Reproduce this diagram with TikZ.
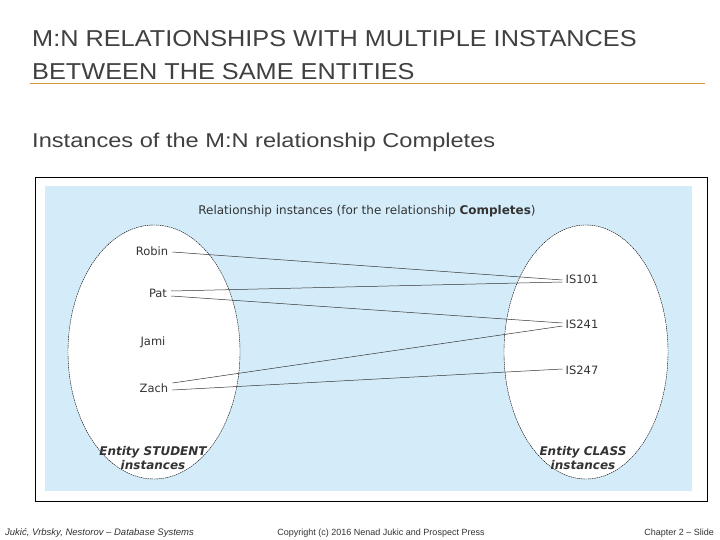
\documentclass[tikz,border=0pt]{standalone}
\usepackage{fontspec}
\setmainfont{Liberation Sans}
\newfontfamily\dv{DejaVu Sans}
\begin{document}
\begin{tikzpicture}[x=1pt,y=-1pt,
  lbl/.style={font=\dv\fontsize{11.5}{13}\selectfont,text=black!80,inner sep=1pt},
  ent/.style={font=\dv\bfseries\itshape\fontsize{12}{14}\selectfont,text=black!80,align=center},
  conn/.style={draw=black!80,line width=0.5pt}]
\useasboundingbox (0,0) rectangle (720,540);
\fill[white] (0,0) rectangle (720,540);
\node[anchor=base west,font=\fontsize{23}{26}\selectfont,text=black!75,xscale=1.1,inner sep=0pt] (t1) at (32,47) {M:N RELATIONSHIPS WITH MULTIPLE INSTANCES};
\node[anchor=base west,font=\fontsize{23}{26}\selectfont,text=black!75,xscale=1.1,inner sep=0pt] (t2) at (32,80) {BETWEEN THE SAME ENTITIES};
\draw[draw={rgb,255:red,215;green,150;blue,60},line width=1pt] (30,84) -- (705,84);
\node[anchor=base west,font=\fontsize{20}{24}\selectfont,text=black!75,xscale=1.18,inner sep=0pt] (sub) at (32,148) {Instances of the M:N relationship Completes};
\draw[line width=0.8pt] (35,177) rectangle (707,501);
\fill[fill={rgb,255:red,212;green,236;blue,250}] (45,186) rectangle (692,491);
\node[font=\dv\fontsize{12}{14}\selectfont,text=black!80] (hd) at (367,211) {Relationship instances (for the relationship \textbf{Completes})};
\draw[dashed,dash pattern=on 1.5pt off 0.7pt,fill=white] (154,352) ellipse [x radius=86,y radius=127];
\draw[dashed,dash pattern=on 1.5pt off 0.7pt,fill=white] (586,352) ellipse [x radius=82,y radius=127];
\node[lbl] (robin) at (152,251) {Robin};
\node[lbl] (pat) at (158,293) {Pat};
\node[lbl] (jami) at (153,342) {Jami};
\node[lbl] (zach) at (154,388) {Zach};
\node[lbl] (c1) at (582,279) {IS101};
\node[lbl] (c2) at (582,324) {IS241};
\node[lbl] (c3) at (582,370) {IS247};
\draw[conn] ([xshift=3pt,yshift=-1pt]robin.east) -- ([xshift=-2pt,yshift=-1pt]c1.west);
\draw[conn] ([xshift=3pt,yshift=2pt]pat.east) -- ([xshift=-2pt,yshift=-3pt]c1.west);
\draw[conn] ([xshift=3pt,yshift=-3pt]pat.east) -- ([xshift=-2pt,yshift=1pt]c2.west);
\draw[conn] ([xshift=3pt,yshift=5pt]zach.east) -- ([xshift=-2pt,yshift=-2pt]c2.west);
\draw[conn] ([xshift=3pt,yshift=-2pt]zach.east) -- ([xshift=-2pt,yshift=1pt]c3.west);
\node[ent] (e1) at (153,458) {Entity STUDENT\\instances};
\node[ent] (e2) at (583,458) {Entity CLASS\\instances};
\node[anchor=base west,font=\fontsize{9.5}{11}\selectfont\itshape,text=black!80,inner sep=0pt] (f1) at (5,535) {Jukić, Vrbsky, Nestorov – Database Systems};
\node[anchor=base,font=\fontsize{9}{11}\selectfont,text=black!80,inner sep=0pt] (f2) at (381,535) {Copyright (c) 2016 Nenad Jukic and Prospect Press};
\node[anchor=base east,font=\fontsize{9}{11}\selectfont,text=black!80,inner sep=0pt] (f3) at (714,535) {Chapter 2 – Slide};
\end{tikzpicture}
\end{document}
